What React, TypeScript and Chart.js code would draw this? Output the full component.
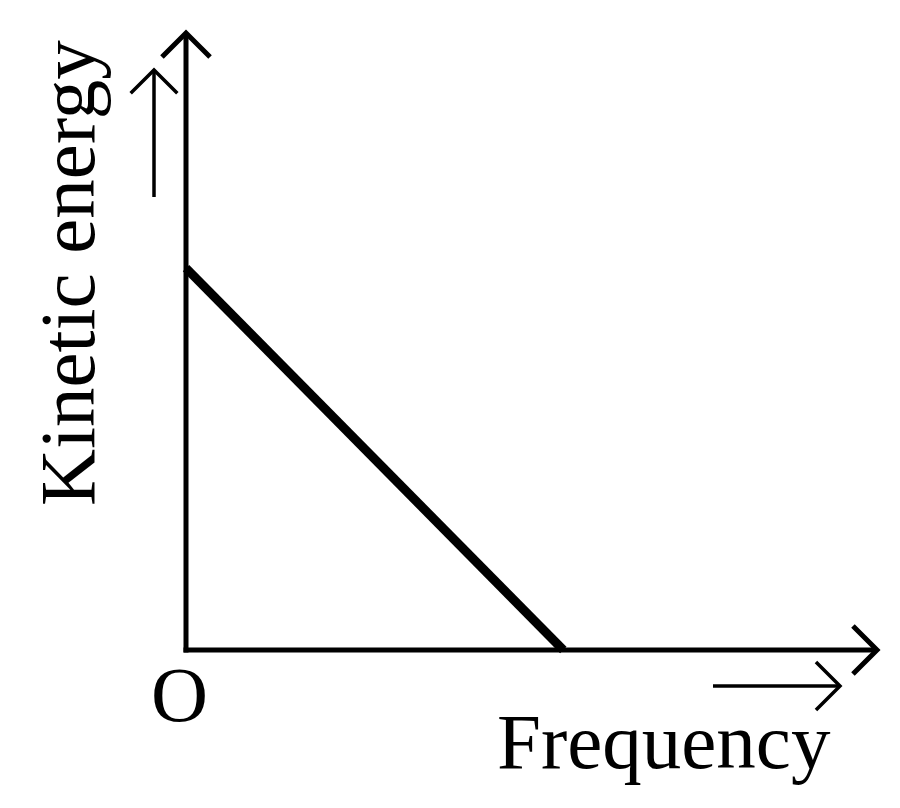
import { Chart, registerables } from "chart.js"
import type { Plugin } from "chart.js"
import { useEffect, useRef } from "react"

Chart.register(...registerables)

// photoelectric effect: kinetic energy vs frequency (arbitrary units)
const frequency = [0, 54.6]
const kineticEnergy = [61.9, 0]
const xLabel = "Frequency"
const yLabel = "Kinetic energy"
const originLabel = "O"

const FONT = '79px "Liberation Serif", "Times New Roman", serif'

const arrow = (ctx: CanvasRenderingContext2D, x1: number, y1: number, x2: number, y2: number, wing: number, width: number) => {
  const ang = Math.atan2(y2 - y1, x2 - x1)
  ctx.lineWidth = width
  ctx.beginPath()
  ctx.moveTo(x1, y1)
  ctx.lineTo(x2, y2)
  ctx.stroke()
  ctx.beginPath()
  ctx.moveTo(x2 - wing * Math.cos(ang - Math.PI / 4), y2 - wing * Math.sin(ang - Math.PI / 4))
  ctx.lineTo(x2, y2)
  ctx.lineTo(x2 - wing * Math.cos(ang + Math.PI / 4), y2 - wing * Math.sin(ang + Math.PI / 4))
  ctx.stroke()
}

const axesPlugin: Plugin<"scatter"> = {
  id: "arrowAxes",
  beforeDatasetsDraw(chart) {
    const { ctx, chartArea } = chart
    const { left, top, right, bottom } = chartArea
    ctx.save()
    ctx.strokeStyle = "#000"
    ctx.lineCap = "butt"
    ctx.lineJoin = "miter"
    // y axis
    arrow(ctx, left, bottom + 2.5, left, top, 34, 5)
    // x axis
    arrow(ctx, left - 2.5, bottom, right, bottom, 34, 5)
    ctx.restore()
  },
  afterDraw(chart) {
    const { ctx, chartArea } = chart
    const { left, top, right, bottom } = chartArea
    ctx.save()
    ctx.strokeStyle = "#000"
    ctx.fillStyle = "#000"
    // small arrows next to the labels
    arrow(ctx, left - 32, top + 164, left - 32, top + 37, 33, 3.5)
    arrow(ctx, right - 164, bottom + 36, right - 37, bottom + 36, 34, 3.5)

    ctx.font = FONT
    ctx.textAlign = "left"
    ctx.textBaseline = "alphabetic"
    ctx.fillText(xLabel, 497, 768)
    ctx.fillText(originLabel, 151, 721)

    ctx.translate(94, 506)
    ctx.rotate(-Math.PI / 2)
    ctx.fillText(yLabel, 0, 0)
    ctx.restore()
  },
}

export default function App() {
  const chartRef = useRef<HTMLCanvasElement>(null)
  const chartInstance = useRef<Chart | null>(null)

  useEffect(() => {
    if (!chartRef.current) return
    const ctx = chartRef.current.getContext("2d")
    if (!ctx) return

    chartInstance.current = new Chart(ctx, {
      type: "scatter",
      data: {
        datasets: [
          {
            label: "KE",
            data: frequency.map((f, i) => ({ x: f, y: kineticEnergy[i] })),
            showLine: true,
            borderColor: "#000",
            borderWidth: 9,
            pointRadius: 0,
            borderCapStyle: "butt",
            clip: false,
          },
        ],
      },
      options: {
        animation: false,
        responsive: true,
        maintainAspectRatio: false,
        layout: {
          padding: { left: 186, top: 33, right: 23, bottom: 158 },
        },
        scales: {
          x: { type: "linear", min: 0, max: 100, display: false },
          y: { type: "linear", min: 0, max: 100, display: false },
        },
        plugins: {
          legend: { display: false },
          tooltip: { enabled: false },
        },
      },
      plugins: [axesPlugin],
    })

    return () => {
      if (chartInstance.current) {
        chartInstance.current.destroy()
        chartInstance.current = null
      }
    }
  }, [])

  return (
    <div style={{ position: "fixed", left: 0, top: 0, width: 900, height: 808, background: "#fff" }}>
      <canvas ref={chartRef} />
    </div>
  )
}
